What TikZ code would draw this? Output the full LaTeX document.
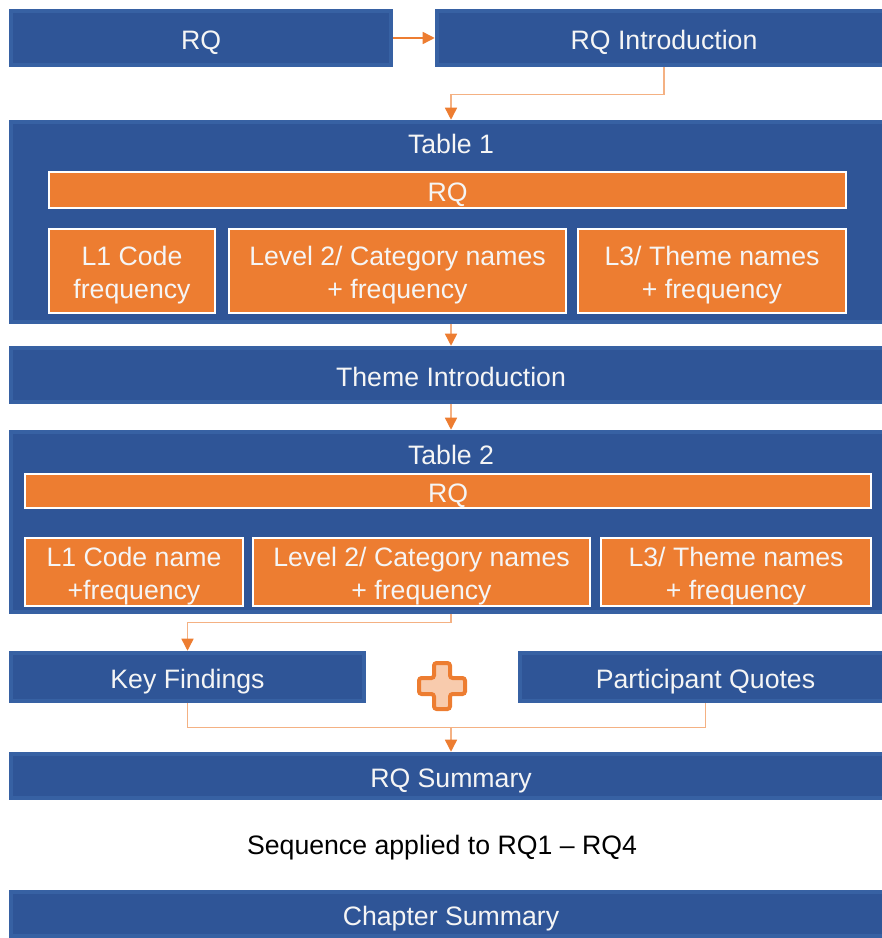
\documentclass[tikz,border=0pt]{standalone}
\usepackage{fontspec}
\setmainfont{Liberation Sans}
\usetikzlibrary{arrows.meta,calc}

\definecolor{boxblue}{HTML}{2F5597}
\definecolor{bevelblue}{HTML}{3761A3}
\definecolor{accent}{HTML}{ED7D31}
\definecolor{linkline}{HTML}{F4B183}
\definecolor{pluspale}{HTML}{F8CBAD}
\definecolor{offwhite}{HTML}{F5F5F5}

\begin{document}
\begin{tikzpicture}[x=0.75pt,y=-0.75pt,
  dims/.style n args={2}{minimum width=#1*0.75pt, minimum height=#2*0.75pt},
  txt/.style={font=\fontsize{20}{24.5}\selectfont, align=center},
  oneline/.style={text height=19pt, text depth=2pt},
  twoline/.style={text height=43pt, text depth=2pt},
  bluebox/.style={rectangle, inner sep=0pt, text=offwhite, txt, oneline,
    path picture={
      \fill[bevelblue] (path picture bounding box.south west) rectangle (path picture bounding box.north east);
      \fill[boxblue] ([shift={(3pt,3pt)}]path picture bounding box.south west)
        rectangle ([shift={(-3pt,-3pt)}]path picture bounding box.north east);}},
  orangebox/.style={rectangle, inner sep=0pt, fill=accent, draw=white, line width=1.5pt, text=offwhite, txt, oneline},
  title/.style={text=offwhite, txt, inner sep=0pt},
  tip/.style={-{Triangle[length=9pt, width=9pt, color=accent]}},
  conn/.style={draw=linkline, line width=1.1pt, tip},
  connplain/.style={draw=linkline, line width=1.1pt},
  conndark/.style={draw=accent, line width=1.1pt, tip}]

\useasboundingbox (0,0) rectangle (881,938);

% top row
\node[bluebox, dims={384}{58}] (rq) at (201,38) {RQ};
\node[bluebox, dims={458}{58}] (intro) at (664,38) {RQ Introduction};

% table 1
\node[bluebox, dims={884}{204}] (t1) at (451,222) {};
\node[title] (t1title) at (451,144) {Table 1};
\node[orangebox, dims={797}{36}] (t1rq) at (447.5,190) {RQ};
\node[orangebox, twoline, dims={166}{84}] (t1a) at (132,271) {L1 Code\\frequency};
\node[orangebox, twoline, dims={337}{84}] (t1b) at (397.5,271) {Level 2/ Category names\\+ frequency};
\node[orangebox, twoline, dims={268}{84}] (t1c) at (712,271) {L3/ Theme names\\+ frequency};

% theme introduction
\node[bluebox, dims={884}{58}] (theme) at (451,375) {Theme Introduction};

% table 2
\node[bluebox, dims={884}{184}] (t2) at (451,522) {};
\node[title] (t2title) at (451,455) {Table 2};
\node[orangebox, dims={846}{34}] (t2rq) at (448,491) {RQ};
\node[orangebox, twoline, dims={218}{68}] (t2a) at (134,572) {L1 Code name\\+frequency};
\node[orangebox, twoline, dims={337}{68}] (t2b) at (421.5,572) {Level 2/ Category names\\+ frequency};
\node[orangebox, twoline, dims={270}{68}] (t2c) at (736,572) {L3/ Theme names\\+ frequency};

% findings and quotes
\node[bluebox, dims={357}{52}] (key) at (187.5,677) {Key Findings};
\node[bluebox, dims={375}{52}] (pq) at (705.5,677) {Participant Quotes};

% plus sign between the two
\begin{scope}[shift={(442,686)}]
  \draw[accent, fill=pluspale, line width=3pt, rounded corners=2pt]
    (-8,-23) -- (8,-23) -- (8,-8) -- (23,-8) -- (23,8) -- (8,8) -- (8,23)
    -- (-8,23) -- (-8,8) -- (-23,8) -- (-23,-8) -- (-8,-8) -- cycle;
\end{scope}

% summaries
\node[bluebox, dims={884}{48}] (rqsum) at (451,776) {RQ Summary};
\node[txt, oneline, text=black, inner sep=0pt] (seq) at (442,843) {Sequence applied to RQ1 -- RQ4};
\node[bluebox, dims={884}{48}] (chap) at (451,914) {Chapter Summary};

% connectors
\draw[conndark] (rq.east) -- (intro.west);
\draw[conn] (intro.south) -- ++(0,27) -| (t1.north);
\draw[conn] (t1.south) -- (theme.north);
\draw[conn] (theme.south) -- (t2.north);
\draw[conn] (t2.south) -- ++(0,8) -| (key.north);
\coordinate (join) at ($(key.south -| rqsum.north)+(0,24)$);
\draw[connplain] (key.south) |- (join) -| (pq.south);
\draw[conn] (join) -- (rqsum.north);
\end{tikzpicture}
\end{document}
